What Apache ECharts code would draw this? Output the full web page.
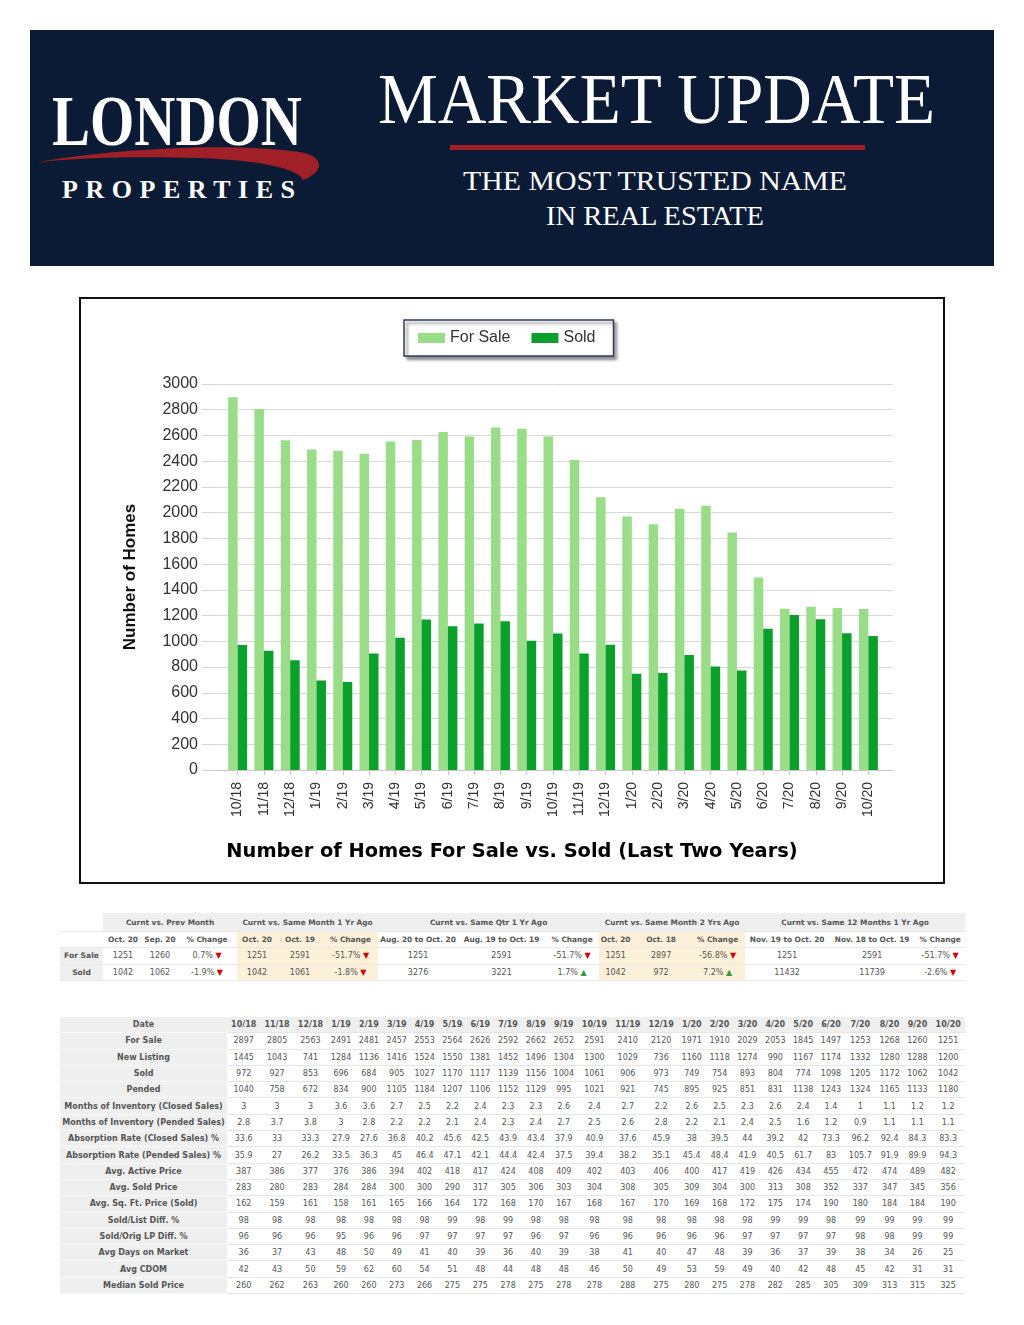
<!DOCTYPE html>
<html><head><meta charset="utf-8">
<script src="https://cdn.jsdelivr.net/npm/echarts/dist/echarts.min.js"></script>
<style>
html,body{margin:0;padding:0;background:#fff;width:1024px;height:1325px;overflow:hidden;position:relative;}
#hdr{position:absolute;left:0;top:0;}
#box{position:absolute;left:79px;top:297px;width:866px;height:587px;border:2px solid #111;box-sizing:border-box;}
#chart{position:absolute;left:81px;top:299px;width:862px;height:583px;}
table{border-collapse:collapse;position:absolute;font-family:"DejaVu Sans",Verdana,sans-serif;font-size:8px;color:#555;}
#t1{left:60px;top:913px;width:905px;table-layout:fixed;}
#t1 td{text-align:center;padding:0;white-space:nowrap;overflow:hidden;border-bottom:1px solid #e9e9e9;}
#t1 tr.g td{height:18px;background:#efefef;font-weight:bold;font-size:7.4px;}
#t1 tr.g td.blank{background:#fff;}
#t1 tr.s td{height:15px;font-weight:bold;font-size:7.4px;}
#t1 tr.d td{height:15.5px;}
#t1 td.hl{background:#fdf0d9 !important;}
#t1 td.lab{background:#efefef;font-weight:bold;font-size:7.6px;}
#t2{left:60px;top:1017px;width:905px;}
#t2 td{height:15.3px;text-align:center;padding:0 2px;border-bottom:1px solid #e6e6e6;white-space:nowrap;}
#t2 td.lab{width:163px;background:#efefef;font-weight:bold;border-bottom:1px solid #fafafa;}
#t2 tr.h td{background:#efefef;font-weight:bold;}
.dn{color:#d40000;}
.up{color:#2f9e3f;}
</style></head>
<body>
<svg id="hdr" width="1024" height="280" xmlns="http://www.w3.org/2000/svg">
<rect x="30" y="30" width="964" height="236" fill="#0c1b35"/>
<text x="52" y="145" font-family="Liberation Serif" font-weight="bold" font-size="71" fill="#fff" textLength="250" lengthAdjust="spacingAndGlyphs">LONDON</text>
<path d="M38,162 C100,151 220,141 300,152 C326,157 324,172 303,180 C300,171 270,161 200,158 C130,156 80,158 38,162 Z" fill="#a11f27"/>
<text x="62" y="198" font-family="Liberation Serif" font-weight="bold" font-size="26" fill="#fff" textLength="233" lengthAdjust="spacing">PROPERTIES</text>
<text x="378" y="123" font-family="Liberation Serif" font-size="72" fill="#fff" textLength="557" lengthAdjust="spacingAndGlyphs">MARKET UPDATE</text>
<rect x="450" y="145" width="415" height="5" fill="#a11f27"/>
<text x="463" y="190" font-family="Liberation Serif" font-size="28" fill="#fff" textLength="384" lengthAdjust="spacingAndGlyphs">THE MOST TRUSTED NAME</text>
<text x="546" y="225" font-family="Liberation Serif" font-size="28" fill="#fff" textLength="218" lengthAdjust="spacingAndGlyphs">IN REAL ESTATE</text>
</svg>
<div id="box"></div>
<div id="chart"></div>
<table id="t1"></table>
<table id="t2"></table>
<script>
// ---------- chart / table data ----------
const categories = ['10/18','11/18','12/18','1/19','2/19','3/19','4/19','5/19','6/19','7/19','8/19','9/19','10/19','11/19','12/19','1/20','2/20','3/20','4/20','5/20','6/20','7/20','8/20','9/20','10/20'];
const forSale = [2897,2805,2563,2491,2481,2457,2553,2564,2626,2592,2662,2652,2591,2410,2120,1971,1910,2029,2053,1845,1497,1253,1268,1260,1251];
const newListing = [1445,1043,741,1284,1136,1416,1524,1550,1381,1452,1496,1304,1300,1029,736,1160,1118,1274,990,1167,1174,1332,1280,1288,1200];
const sold = [972,927,853,696,684,905,1027,1170,1117,1139,1156,1004,1061,906,973,749,754,893,804,774,1098,1205,1172,1062,1042];
const pended = [1040,758,672,834,900,1105,1184,1207,1106,1152,1129,995,1021,921,745,895,925,851,831,1138,1243,1324,1165,1133,1180];
const moiClosed = [3,3,3,3.6,3.6,2.7,2.5,2.2,2.4,2.3,2.3,2.6,2.4,2.7,2.2,2.6,2.5,2.3,2.6,2.4,1.4,1,1.1,1.2,1.2];
const moiPended = [2.8,3.7,3.8,3,2.8,2.2,2.2,2.1,2.4,2.3,2.4,2.7,2.5,2.6,2.8,2.2,2.1,2.4,2.5,1.6,1.2,0.9,1.1,1.1,1.1];
const arClosed = [33.6,33,33.3,27.9,27.6,36.8,40.2,45.6,42.5,43.9,43.4,37.9,40.9,37.6,45.9,38,39.5,44,39.2,42,73.3,96.2,92.4,84.3,83.3];
const arPended = [35.9,27,26.2,33.5,36.3,45,46.4,47.1,42.1,44.4,42.4,37.5,39.4,38.2,35.1,45.4,48.4,41.9,40.5,61.7,83,105.7,91.9,89.9,94.3];
const avgActive = [387,386,377,376,386,394,402,418,417,424,408,409,402,403,406,400,417,419,426,434,455,472,474,489,482];
const avgSold = [283,280,283,284,284,300,300,290,317,305,306,303,304,308,305,309,304,300,313,308,352,337,347,345,356];
const avgSqFt = [162,159,161,158,161,165,166,164,172,168,170,167,168,167,170,169,168,172,175,174,190,180,184,184,190];
const soldListDiff = [98,98,98,98,98,98,98,99,98,99,98,98,98,98,98,98,98,98,99,99,98,99,99,99,99];
const soldOrigDiff = [96,96,96,95,96,96,97,97,97,97,96,97,96,96,96,96,96,97,97,97,97,98,98,99,99];
const avgDom = [36,37,43,48,50,49,41,40,39,36,40,39,38,41,40,47,48,39,36,37,39,38,34,26,25];
const avgCdom = [42,43,50,59,62,60,54,51,48,44,48,48,46,50,49,53,59,49,40,42,48,45,42,31,31];
const medianSold = [260,262,263,260,260,273,266,275,275,278,275,278,278,288,275,280,275,278,282,285,305,309,313,315,325];

const summaryGroups = ['Curnt vs. Prev Month','Curnt vs. Same Month 1 Yr Ago','Curnt vs. Same Qtr 1 Yr Ago','Curnt vs. Same Month 2 Yrs Ago','Curnt vs. Same 12 Months 1 Yr Ago'];
const summaryCols = ['Oct. 20','Sep. 20','% Change','Oct. 20','Oct. 19','% Change','Aug. 20 to Oct. 20','Aug. 19 to Oct. 19','% Change','Oct. 20','Oct. 18','% Change','Nov. 19 to Oct. 20','Nov. 18 to Oct. 19','% Change'];
const summaryForSale = ['1251','1260','0.7%','1251','2591','-51.7%','1251','2591','-51.7%','1251','2897','-56.8%','1251','2591','-51.7%'];
const summaryForSaleDir = ['dn','dn','dn','dn','dn'];
const summarySold = ['1042','1062','-1.9%','1042','1061','-1.8%','3276','3221','1.7%','1042','972','7.2%','11432','11739','-2.6%'];
const summarySoldDir = ['dn','dn','up','up','dn'];

// ---------- chart ----------
const chart = echarts.init(document.getElementById('chart'), null, {renderer:'canvas'});
const FF = 'Liberation Sans, Arial, sans-serif';
chart.setOption({
  animation:false,
  title:{text:'Number of Homes For Sale vs. Sold (Last Two Years)',left:'center',top:538,
    textStyle:{fontFamily:'DejaVu Sans, sans-serif',fontSize:19.4,fontWeight:'bold',color:'#000'}},
  legend:{data:['For Sale','Sold'],left:323,top:21,icon:'rect',itemWidth:27,itemHeight:10,itemGap:21,
    padding:[10,18,10,14],borderColor:'#2f3b5a',borderWidth:1.5,backgroundColor:'#fff',
    shadowColor:'rgba(0,0,0,0.45)',shadowBlur:3,shadowOffsetX:3,shadowOffsetY:3,
    textStyle:{fontFamily:FF,fontSize:16,color:'#333'}},
  grid:[{left:131,right:50,top:85,bottom:112},{left:143.5,right:61.5,top:85,bottom:112}],
  xAxis:[
    {gridIndex:0,type:'value',min:0,max:1,axisLine:{show:true,lineStyle:{color:'#c8c8c8'}},axisTick:{show:false},axisLabel:{show:false},splitLine:{show:false}},
    {gridIndex:1,type:'category',data:categories,axisLine:{show:false},
      axisTick:{show:true,alignWithLabel:true,length:5,lineStyle:{color:'#c8c8c8'}},
      axisLabel:{rotate:90,interval:0,fontSize:14,color:'#333',margin:12,fontFamily:FF}}
  ],
  yAxis:[
    {gridIndex:0,type:'value',min:0,max:3000,interval:200,name:'Number of Homes',nameLocation:'middle',nameRotate:90,nameGap:73,
      nameTextStyle:{fontFamily:FF,fontSize:17,fontWeight:'bold',color:'#111'},
      axisLine:{show:false},axisTick:{show:true,length:10,lineStyle:{color:'#d3d3d3'}},
      axisLabel:{fontSize:16,color:'#333',margin:14,fontFamily:FF,formatter:function(v){return String(v);}},
      splitLine:{lineStyle:{color:'#d9d9d9'}}},
    {gridIndex:1,type:'value',min:0,max:3000,interval:200,show:false,splitLine:{show:false}}
  ],
  series:[
    {name:'For Sale',type:'bar',xAxisIndex:1,yAxisIndex:1,data:forSale,barWidth:9.5,barGap:'0%',itemStyle:{color:'#9ADD88'}},
    {name:'Sold',type:'bar',xAxisIndex:1,yAxisIndex:1,data:sold,barWidth:9.5,barGap:'0%',itemStyle:{color:'#0BA02C'}}
  ]
});

// ---------- summary table ----------
const colW = [43,40,34,60,40,46,55,80,87,54,33,58,55,84,86,50];
const hlGroups = [1,3];
let h = '<colgroup>' + colW.map(w=>'<col style="width:'+w+'px">').join('') + '</colgroup>';
h += '<tr class="g"><td class="blank"></td>' + summaryGroups.map(g=>'<td colspan="3">'+g+'</td>').join('') + '</tr>';
h += '<tr class="s"><td></td>' + summaryCols.map((c,i)=>'<td'+(hlGroups.includes(Math.floor(i/3))?' class="hl"':'')+'>'+c+'</td>').join('') + '</tr>';
function sumRow(label, vals, dirs){
  let r = '<tr class="d"><td class="lab">'+label+'</td>';
  vals.forEach((v,i)=>{
    const g = Math.floor(i/3);
    let txt = v;
    if(i%3===2){ txt = v + ' <span class="'+dirs[g]+'">'+(dirs[g]==='up'?'▲':'▼')+'</span>'; }
    r += '<td'+(hlGroups.includes(g)?' class="hl"':'')+'>'+txt+'</td>';
  });
  return r + '</tr>';
}
h += sumRow('For Sale', summaryForSale, summaryForSaleDir);
h += sumRow('Sold', summarySold, summarySoldDir);
document.getElementById('t1').innerHTML = h;

// ---------- detail table ----------
const detailRows = [
  ['For Sale',forSale],['New Listing',newListing],['Sold',sold],['Pended',pended],
  ['Months of Inventory (Closed Sales)',moiClosed],['Months of Inventory (Pended Sales)',moiPended],
  ['Absorption Rate (Closed Sales) %',arClosed],['Absorption Rate (Pended Sales) %',arPended],
  ['Avg. Active Price',avgActive],['Avg. Sold Price',avgSold],['Avg. Sq. Ft. Price (Sold)',avgSqFt],
  ['Sold/List Diff. %',soldListDiff],['Sold/Orig LP Diff. %',soldOrigDiff],['Avg Days on Market',avgDom],
  ['Avg CDOM',avgCdom],['Median Sold Price',medianSold]
];
let h2 = '<tr class="h"><td class="lab">Date</td>' + categories.map(c=>'<td>'+c+'</td>').join('') + '</tr>';
detailRows.forEach(([lab,arr])=>{
  h2 += '<tr><td class="lab">'+lab+'</td>' + arr.map(v=>'<td>'+v+'</td>').join('') + '</tr>';
});
document.getElementById('t2').innerHTML = h2;
</script>
</body></html>
